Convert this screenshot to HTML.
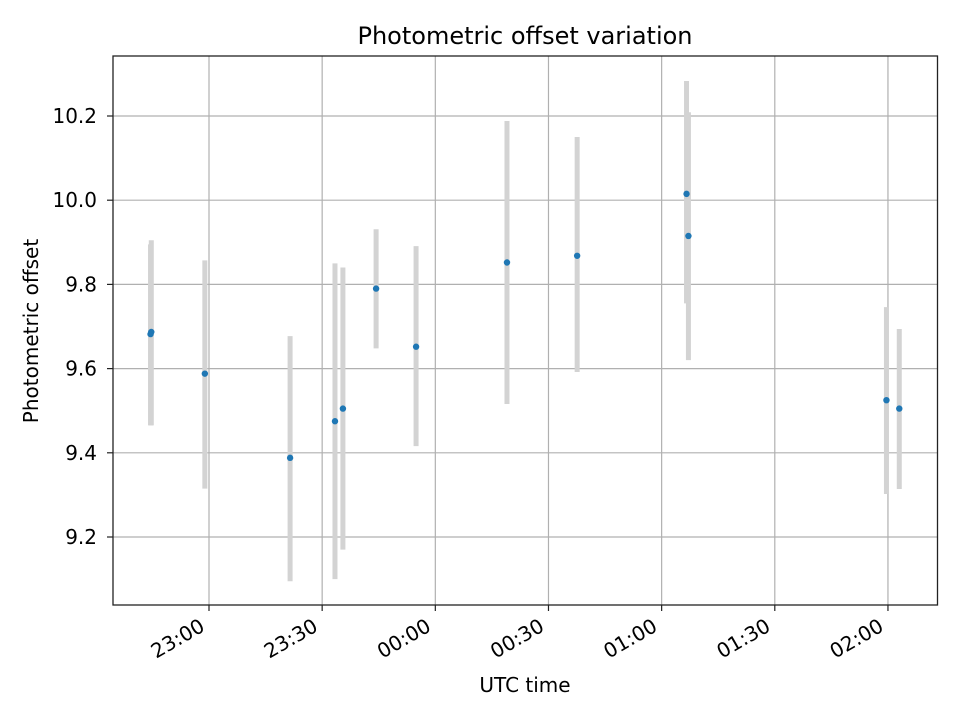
<!DOCTYPE html>
<html><head><meta charset="utf-8"><style>
body{margin:0;background:#fff}
svg{display:block;font-family:"DejaVu Sans","Liberation Sans",sans-serif}
</style></head><body>
<svg id="chart" width="960" height="720" viewBox="0 0 960 720" xmlns="http://www.w3.org/2000/svg">
<rect width="960" height="720" fill="#fff"/>
<text x="525" y="44" text-anchor="middle" font-size="24">Photometric offset variation</text>
<g id="grid"></g>
<g id="bars"></g>
<g id="points"></g>
<rect x="113" y="56" width="824.5" height="549" fill="none" stroke="#222" stroke-width="1.3"/>
<g id="ticks"></g>
<text x="525" y="692" text-anchor="middle" font-size="20">UTC time</text>
<text transform="translate(38,331) rotate(-90)" text-anchor="middle" font-size="20">Photometric offset</text>
</svg>
<script>
// minutes relative to 23:00 UTC
const times = [-15.5, -15.3, -1.1, 21.5, 33.4, 35.5, 44.3, 54.9, 79.0, 97.6, 126.6, 127.1, 179.6, 183.0];
const offsets = [9.682, 9.687, 9.588, 9.388, 9.475, 9.505, 9.790, 9.652, 9.852, 9.868, 10.015, 9.915, 9.525, 9.505];
const errLow = [9.465, 9.465, 9.315, 9.095, 9.100, 9.170, 9.648, 9.416, 9.516, 9.592, 9.755, 9.620, 9.302, 9.314];
const errHigh = [9.895, 9.905, 9.857, 9.677, 9.850, 9.840, 9.931, 9.891, 10.188, 10.150, 10.283, 10.209, 9.746, 9.694];
const yTicks = [9.2, 9.4, 9.6, 9.8, 10.0, 10.2];
const xTickMins = [0, 30, 60, 90, 120, 150, 180];
const xTickLabels = ["23:00", "23:30", "00:00", "00:30", "01:00", "01:30", "02:00"];

const NS = "http://www.w3.org/2000/svg";
const xs = m => 209 + m * 3.772;
const ys = v => 537 - (v - 9.2) * 421;
function mk(tag, attrs, parent){const e=document.createElementNS(NS,tag);for(const k in attrs)e.setAttribute(k,attrs[k]);document.getElementById(parent).appendChild(e);return e;}

yTicks.forEach((v,i)=>{
  const y=ys(v);
  const g=mk('line',{x1:113,x2:937.5,y1:y,y2:y,stroke:'#b0b0b0','stroke-width':1.2},'grid');
  
  
  const t=mk('line',{x1:107,x2:113,y1:y,y2:y,stroke:'#222','stroke-width':1.2},'ticks');
  
  
  const l=mk('text',{x:97,y:y+7,'text-anchor':'end','font-size':20},'ticks');
  
  
  l.textContent=v.toFixed(1);
});
xTickMins.forEach((m,i)=>{
  const x=xs(m);
  const g=mk('line',{x1:x,x2:x,y1:56,y2:605,stroke:'#b0b0b0','stroke-width':1.2},'grid');
  
  
  const t=mk('line',{x1:x,x2:x,y1:605,y2:611,stroke:'#222','stroke-width':1.2},'ticks');
  
  
  const l=mk('text',{x:0,y:0,'text-anchor':'end','font-size':20,transform:`translate(${x-3},${630}) rotate(-30)`},'ticks');
  
  
  l.textContent=xTickLabels[i];
});
times.forEach((m,i)=>{
  const x=xs(m);
  const b=mk('line',{x1:x,x2:x,y1:ys(errLow[i]),y2:ys(errHigh[i]),stroke:'#d3d3d3','stroke-width':5},'bars');
  
  
});
times.forEach((m,i)=>{
  const p=mk('circle',{cx:xs(m),cy:ys(offsets[i]),r:3.2,fill:'#1f77b4'},'points');
  
  
});
</script>
</body></html>
